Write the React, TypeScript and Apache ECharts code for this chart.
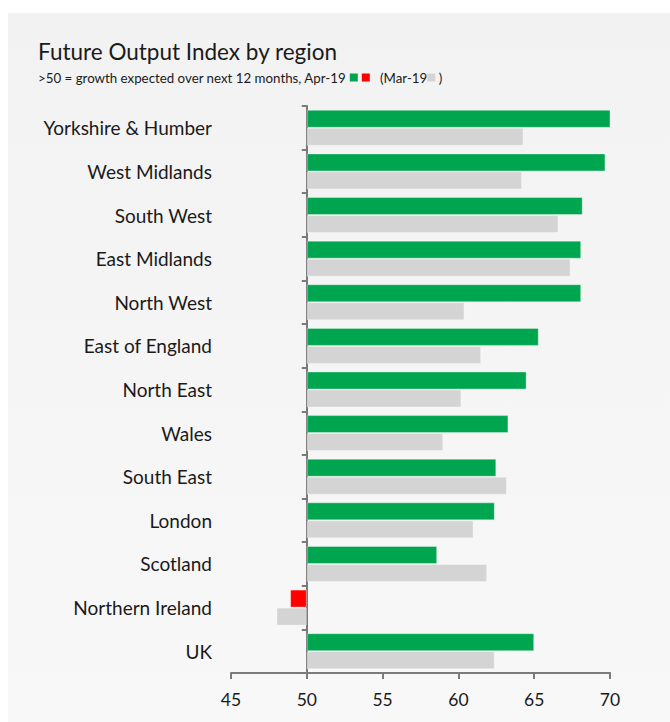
import React, { useEffect, useRef } from "react";
import * as echarts from "echarts";

const regions = [
  "Yorkshire & Humber",
  "West Midlands",
  "South West",
  "East Midlands",
  "North West",
  "East of England",
  "North East",
  "Wales",
  "South East",
  "London",
  "Scotland",
  "Northern Ireland",
  "UK",
];
const apr19 = [70.1, 69.7, 68.2, 68.1, 68.1, 65.3, 64.5, 63.3, 62.5, 62.4, 58.6, 48.9, 65.0];
const mar19 = [64.3, 64.2, 66.6, 67.4, 60.4, 61.5, 60.2, 59.0, 63.2, 61.0, 61.9, 48.0, 62.4];
const xTicks = [45, 50, 55, 60, 65, 70];

const BASE = 50;
const GREEN = "#00a54f";
const RED = "#ff0000";
const GREY = "#d4d4d4";
const FONT = "Lato";
const INK = "#1a1a1a";

export default function App() {
  const ref = useRef<HTMLDivElement>(null);
  useEffect(() => {
    if (!ref.current) return;
    const chart = echarts.init(ref.current, undefined, { renderer: "svg" });
    chart.setOption({
      animation: false,
      textStyle: { fontFamily: FONT },
      graphic: [
        {
          type: "rect",
          z: -10,
          silent: true,
          shape: { x: 8, y: 13, width: 662, height: 709 },
          style: {
            fill: new echarts.graphic.LinearGradient(0, 0, 0, 1, [
              { offset: 0, color: "#f2f2f2" },
              { offset: 1, color: "#f8f8f8" },
            ]),
          },
        },
        {
          type: "text",
          left: 38,
          top: 40,
          style: {
            text: "Future Output Index by region",
            fontFamily: FONT,
            fontSize: 22.5,
            fill: INK,
          },
        },
        {
          type: "text",
          left: 38,
          top: 71,
          style: {
            text: ">50 = growth expected over next 12 months, Apr-19 {g| }{sp| }{r| }   (Mar-19{s| } )",
            fontFamily: FONT,
            fontSize: 13.3,
            fill: INK,
            rich: {
              g: { backgroundColor: GREEN, width: 8, height: 8 },
              r: { backgroundColor: RED, width: 8, height: 8 },
              s: { backgroundColor: GREY, width: 8, height: 8 },
              sp: { width: 4 },
            },
          },
        },
      ],
      grid: {
        left: 231,
        right: 60,
        top: 106,
        bottom: 49,
        containLabel: false,
        outerBoundsMode: "none",
      },
      xAxis: {
        type: "value",
        min: xTicks[0] - BASE,
        max: xTicks[xTicks.length - 1] - BASE,
        interval: 5,
        splitLine: { show: false },
        axisLine: { show: true, lineStyle: { color: "#7a7a7a", width: 2 } },
        axisTick: { show: true, length: 6, lineStyle: { color: "#7a7a7a", width: 2 } },
        axisLabel: {
          margin: 17,
          fontSize: 17.5,
          color: INK,
          fontFamily: FONT,
          formatter: (v: number) => String(v + BASE),
        },
      },
      yAxis: {
        type: "category",
        data: regions,
        inverse: true,
        axisLine: { show: true, onZero: true, lineStyle: { color: "#7a7a7a", width: 2 } },
        axisTick: { show: true, length: 5, lineStyle: { color: "#7a7a7a", width: 2 } },
        axisLabel: {
          margin: 19,
          fontSize: 19,
          color: INK,
          fontFamily: FONT,
          padding: [0, 0, 4, 0],
        },
      },
      series: [
        {
          type: "bar",
          name: "Apr-19",
          barWidth: 18,
          barGap: "0%",
          data: apr19.map((v) => ({
            value: +(v - BASE).toFixed(2),
            itemStyle: { color: v >= BASE ? GREEN : RED },
          })),
          itemStyle: { borderColor: "rgba(255,255,255,0.35)", borderWidth: 1 },
        },
        {
          type: "bar",
          name: "Mar-19",
          barWidth: 18,
          barGap: "0%",
          data: mar19.map((v) => +(v - BASE).toFixed(2)),
          itemStyle: { color: GREY, borderColor: "rgba(255,255,255,0.35)", borderWidth: 1 },
        },
      ],
    });
    return () => chart.dispose();
  }, []);
  return (
    <div
      ref={ref}
      style={{ position: "absolute", left: 0, top: 0, width: 670, height: 722 }}
    />
  );
}
